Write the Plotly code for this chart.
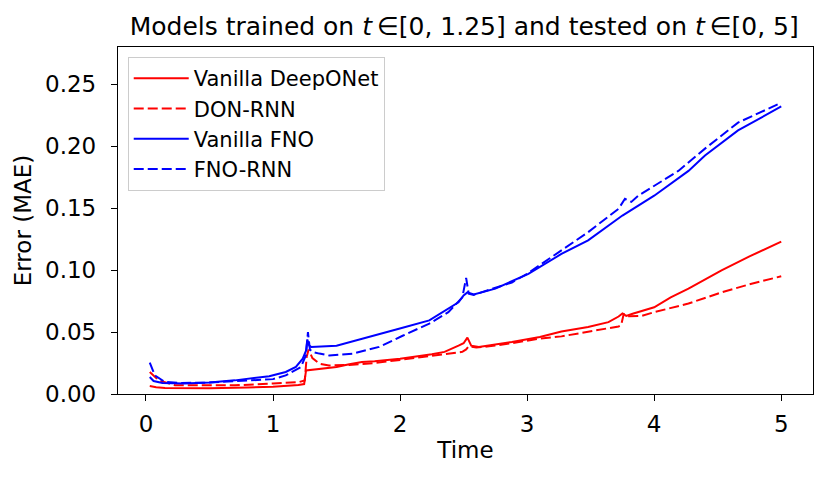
#!/usr/bin/env python3

import plotly.graph_objs as go

# values
t_don = [0.03, 0.08, 0.15, 0.3, 0.5, 0.8, 1.0, 1.2, 1.245, 1.26, 1.3, 1.4, 1.5,
         1.6, 1.7, 1.8, 2.0, 2.25, 2.35, 2.46, 2.5, 2.53, 2.56, 2.62, 2.75, 2.88,
         3.1, 3.27, 3.48, 3.64, 3.72, 3.75, 3.78, 3.83, 4.0, 4.13, 4.27, 4.53,
         4.75, 5.0]
err_don = [0.0065, 0.0055, 0.0048, 0.0046, 0.0046, 0.0052, 0.0058, 0.0072,
           0.008, 0.019, 0.0195, 0.0205, 0.0218, 0.024, 0.0258, 0.0265, 0.0285,
           0.032, 0.034, 0.039, 0.041, 0.0455, 0.039, 0.038, 0.040, 0.042,
           0.046, 0.0505, 0.054, 0.058, 0.0625, 0.065, 0.063, 0.0648, 0.070,
           0.078, 0.085, 0.0998, 0.111, 0.123]

t_don_rnn = [0.03, 0.1, 0.23, 0.5, 0.7, 1.0, 1.2, 1.25, 1.265, 1.28, 1.31,
             1.365, 1.44, 1.6, 1.8, 2.0, 2.23, 2.49, 2.52, 2.54, 2.6, 2.7, 2.88,
             3.09, 3.27, 3.48, 3.72, 3.74, 3.76, 3.8, 3.9, 4.0, 4.27, 4.53,
             4.75, 5.0]
err_don_rnn = [0.0177, 0.011, 0.007, 0.0068, 0.007, 0.0085, 0.0095, 0.011,
               0.030, 0.0358, 0.029, 0.0245, 0.023, 0.0235, 0.025, 0.0275,
               0.0304, 0.034, 0.036, 0.0385, 0.0375, 0.0385, 0.041, 0.0446,
               0.0465, 0.050, 0.0545, 0.0555, 0.0645, 0.0627, 0.063, 0.066,
               0.073, 0.082, 0.0885, 0.095]

t_fno = [0.03, 0.06, 0.13, 0.3, 0.5, 0.7, 0.97, 1.1, 1.18, 1.234, 1.26, 1.27,
         1.285, 1.3, 1.5, 1.76, 2.02, 2.23, 2.38, 2.46, 2.5, 2.53, 2.58, 2.75,
         3.01, 3.27, 3.48, 3.72, 3.75, 4.0, 4.27, 4.4, 4.66, 5.0]
err_fno = [0.0137, 0.0105, 0.0089, 0.0085, 0.0092, 0.011, 0.0143, 0.0178,
           0.0218, 0.0285, 0.035, 0.044, 0.039, 0.038, 0.039, 0.046, 0.0535,
           0.0594, 0.0689, 0.074, 0.0796, 0.082, 0.0804, 0.085, 0.097, 0.113,
           0.124, 0.1415, 0.144, 0.160, 0.180, 0.1925, 0.2127, 0.232]

t_fno_rnn = [0.03, 0.07, 0.15, 0.28, 0.5, 0.7, 1.0, 1.1, 1.22, 1.26, 1.275,
             1.29, 1.31, 1.365, 1.443, 1.63, 1.835, 2.02, 2.23, 2.38, 2.49,
             2.52, 2.54, 2.58, 2.88, 3.0, 3.27, 3.48, 3.72, 3.77, 3.82, 3.875,
             4.19, 4.4, 4.66, 5.0]
err_fno_rnn = [0.0253, 0.015, 0.0097, 0.0089, 0.0092, 0.0105, 0.012, 0.015,
               0.0218, 0.0315, 0.050, 0.036, 0.034, 0.0326, 0.031, 0.0326,
               0.038, 0.047, 0.0568, 0.066, 0.078, 0.0936, 0.081, 0.080, 0.090,
               0.097, 0.116, 0.1306, 0.1495, 0.1575, 0.155, 0.160, 0.180, 0.198,
               0.219, 0.235]

y_ticks = [0.0, 0.05, 0.10, 0.15, 0.20, 0.25]
x_ticks = [0, 1, 2, 3, 4, 5]

FONT = "DejaVu Sans"
DASH = "10px,4px"


def make_trace(t, err, name, color, dash):
    return go.Scatter(x=t, y=err, mode="lines", name=name,
                      legendgroup=name,
                      line=dict(color=color, width=2, dash=dash))


def main():
    traces = [
        make_trace(t_don, err_don, "Vanilla DeepONet", "#ff0000", "solid"),
        make_trace(t_don_rnn, err_don_rnn, "DON-RNN", "#ff0000", DASH),
        make_trace(t_fno, err_fno, "Vanilla FNO", "#0000ff", "solid"),
        make_trace(t_fno_rnn, err_fno_rnn, "FNO-RNN", "#0000ff", DASH),
    ]

    axis_style = dict(showline=True, linecolor="black", linewidth=1.3,
                      mirror=True, ticks="outside", ticklen=6, tickwidth=1.3,
                      tickcolor="black", showgrid=False, zeroline=False,
                      tickfont=dict(size=23, color="black"))

    # page body has an 8px margin, so the figure is a bit smaller than the window
    layout = go.Layout(
        width=822, height=472,
        paper_bgcolor="white", plot_bgcolor="white",
        font=dict(family=FONT, color="black"),
        margin=dict(l=110, r=17, t=39, b=86),
        title=dict(text="Models trained on <i>t</i>\u2009\u2208[0, 1.25] "
                        "and tested on <i>t</i>\u2009\u2208[0, 5]",
                   x=0.555, xanchor="center", y=0.962, yanchor="middle",
                   font=dict(size=25)),
        xaxis=dict(axis_style, range=[-0.22, 5.25], tickvals=x_ticks,
                   ticklabelstandoff=3,
                   title=dict(text="Time", font=dict(size=23), standoff=6)),
        yaxis=dict(axis_style, range=[0, 0.28], tickvals=y_ticks,
                   tickformat=".2f", ticklabelstandoff=10,
                   title=dict(text="Error (MAE)", font=dict(size=23),
                              standoff=6)),
        showlegend=True,
        legend=dict(x=0.014, y=0.971, xanchor="left", yanchor="top",
                    bgcolor="rgba(255,255,255,0.8)", bordercolor="#cccccc",
                    borderwidth=1, font=dict(size=21), tracegroupgap=0,
                    itemwidth=55),
    )
    fig = go.Figure(data=traces, layout=layout)
    fig.write_html("out.html")


if __name__ == "__main__":
    main()
